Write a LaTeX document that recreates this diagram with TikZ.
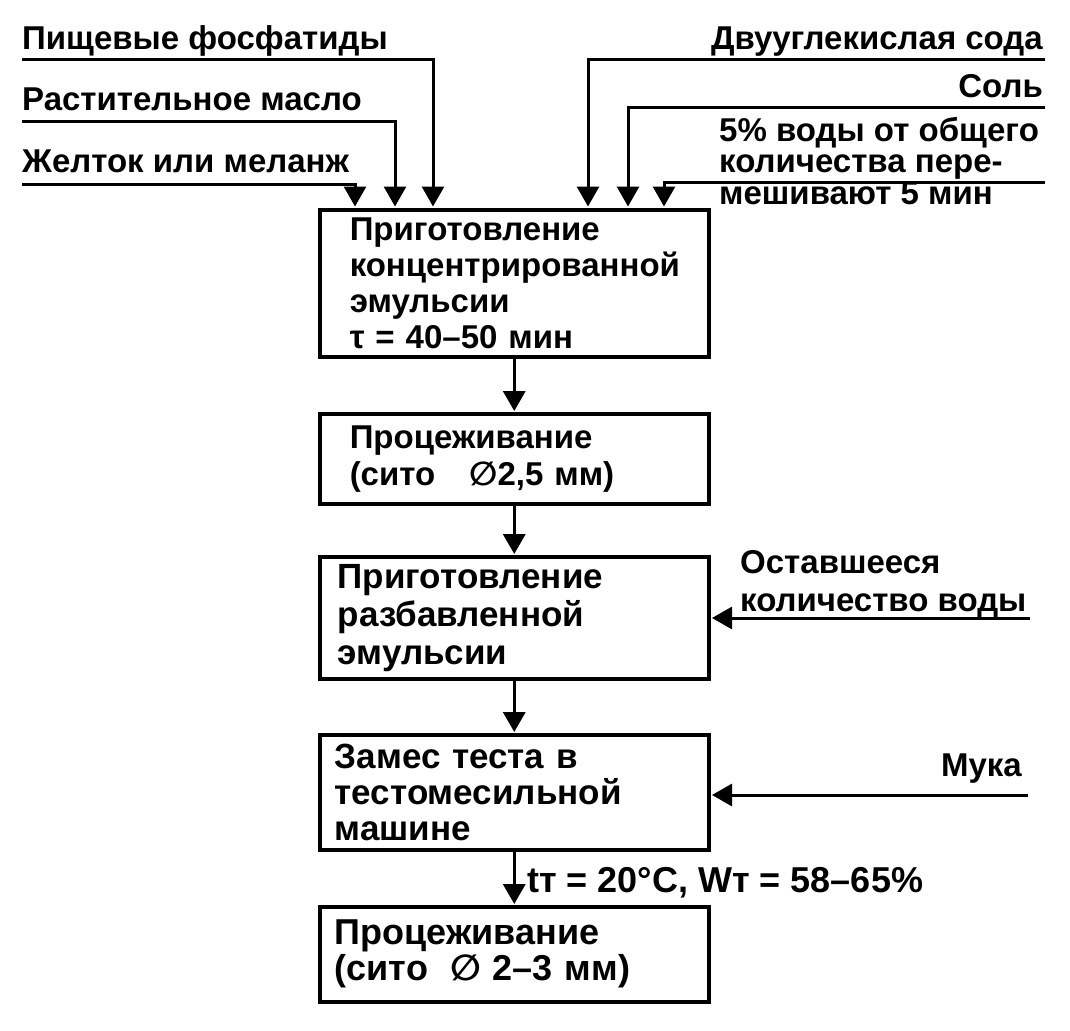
\documentclass[tikz,border=0pt]{standalone}
\usepackage{fontspec}
\setmainfont{Liberation Sans}
\newfontfamily\symfont{DejaVu Sans}
\newcommand\diam{{\symfont ∅}}
\usetikzlibrary{arrows.meta}
\begin{document}
\begin{tikzpicture}[x=1pt,y=-1pt,
  txt/.style={inner sep=0pt, font=\bfseries\fontsize{33}{31}\selectfont},
  flow/.style={line width=3.5pt, -{Triangle[length=20pt,width=22pt]}, shorten >=1pt},
  feed/.style={line width=3pt, -{Triangle[length=20pt,width=22pt]}, shorten >=1.5pt},
  box/.style={draw, line width=3.5pt, anchor=north west, align=left,
    minimum width=389pt, inner ysep=0pt}
]
\useasboundingbox (0,0) rectangle (1070,1030);

% boxes
\node[box, minimum height=147pt, inner xsep=30pt, text width=329pt,
  font=\bfseries\fontsize{33}{36}\selectfont] (b1) at (318,208)
  {Приготовление\\концентрированной\\эмульсии\\τ = 40–50 мин};
\node[box, minimum height=90pt, inner xsep=30pt, text width=329pt,
  font=\bfseries\fontsize{33}{37}\selectfont] (b2) at (318,412)
  {Процеживание\\(сито\hspace{34pt}\diam2,5 мм)};
\node[box, minimum height=122pt, inner xsep=18pt, text width=353pt,
  font=\bfseries\fontsize{35}{38}\selectfont] (b3) at (318,555)
  {Приготовление\\разбавленной\\эмульсии};
\node[box, minimum height=115pt, inner xsep=15pt, text width=359pt,
  font=\bfseries\fontsize{35}{36}\selectfont] (b4) at (318,733)
  {Замес теста в\\тестомесильной\\машине};
\node[box, minimum height=95pt, inner xsep=15pt, text width=359pt,
  font=\bfseries\fontsize{36}{36}\selectfont] (b5) at (318,905)
  {Процеживание\\(сито\hspace{22pt}\diam{} 2–3 мм)};

% main flow
\draw[flow] (b1) -- (b2);
\draw[flow] (b2) -- (b3);
\draw[flow] (b3) -- (b4);
\draw[flow] (b4) -- (b5);
\node[txt, anchor=base west, font=\bfseries\fontsize{36}{36}\selectfont] (cond) at (527,892) {tт = 20°C, Wт = 58–65\%};

% top-left feeds
\node[txt, anchor=base west] (l1) at (22,50) {Пищевые фосфатиды};
\node[txt, anchor=base west] (l2) at (22,111) {Растительное масло};
\node[txt, anchor=base west] (l3) at (22,172) {Желток или меланж};
\coordinate (p1) at (22,60);  \coordinate (c1) at (433,0);
\coordinate (p2) at (22,122); \coordinate (c2) at (395,0);
\coordinate (p3) at (22,184); \coordinate (c3) at (355,0);
\draw[feed] (p1) -| (c1 |- b1.north);
\draw[feed] (p2) -| (c2 |- b1.north);
\draw[feed] (p3) -| (c3 |- b1.north);

% top-right feeds
\node[txt, anchor=base east] (r1) at (1043,50) {Двууглекислая сода};
\node[txt, anchor=base east] (r2) at (1043,98) {Соль};
\node[txt, anchor=base west, align=left, font=\bfseries\fontsize{33}{31.5}\selectfont] (r3) at (719,204)
  {5\% воды от общего\\количества пере-\\мешивают 5 мин};
\coordinate (q1) at (1045,60);  \coordinate (d1) at (588,0);
\coordinate (q2) at (1045,108); \coordinate (d2) at (628,0);
\coordinate (q3) at (1045,182); \coordinate (d3) at (664,0);
\draw[feed] (q1) -| (d1 |- b1.north);
\draw[feed] (q2) -| (d2 |- b1.north);
\draw[feed] (q3) -| (d3 |- b1.north);

% side feeds
\node[txt, anchor=base west, align=left, font=\bfseries\fontsize{33}{38}\selectfont] (w1) at (740,611)
  {Оставшееся\\количество воды};
\coordinate (wq) at (1030,618);
\draw[feed] (wq) -- (wq -| b3.east);
\node[txt, anchor=base east] (m1) at (1022,776) {Мука};
\coordinate (mq) at (1028,795);
\draw[feed] (mq) -- (mq -| b4.east);
\end{tikzpicture}
\end{document}
